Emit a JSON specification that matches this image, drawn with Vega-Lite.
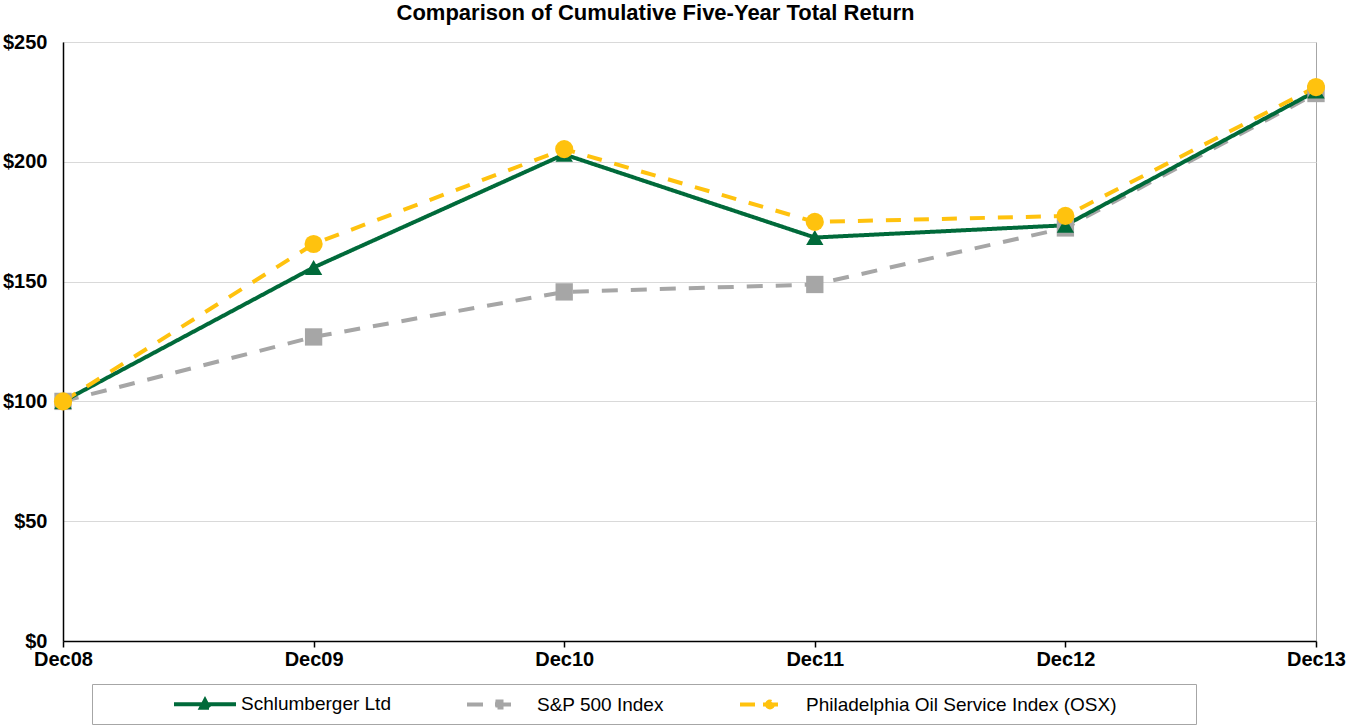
{
  "$schema": "https://vega.github.io/schema/vega-lite/v6.json",
  "width": 1253,
  "height": 599,
  "autosize": {"type": "none"},
  "padding": {"left": 63, "top": 42, "right": 31, "bottom": 85},
  "background": "white",
  "config": {
    "font": "Liberation Sans",
    "view": {"stroke": "#A6A6A6", "strokeWidth": 1}
  },
  "title": {
    "text": "Comparison of Cumulative Five-Year Total Return",
    "fontSize": 22,
    "fontWeight": "bold",
    "color": "black",
    "anchor": "middle",
    "dx": -34,
    "dy": 16,
    "baseline": "alphabetic",
    "offset": 6
  },
  "data": {
    "values": [
      {"series": "S&P 500 Index", "year": "Dec08", "value": 100},
      {"series": "S&P 500 Index", "year": "Dec09", "value": 126.9},
      {"series": "S&P 500 Index", "year": "Dec10", "value": 145.7},
      {"series": "S&P 500 Index", "year": "Dec11", "value": 148.8},
      {"series": "S&P 500 Index", "year": "Dec12", "value": 172.4},
      {"series": "S&P 500 Index", "year": "Dec13", "value": 228.5},
      {"series": "Schlumberger Ltd", "year": "Dec08", "value": 100},
      {"series": "Schlumberger Ltd", "year": "Dec09", "value": 155.9},
      {"series": "Schlumberger Ltd", "year": "Dec10", "value": 203.1},
      {"series": "Schlumberger Ltd", "year": "Dec11", "value": 168.4},
      {"series": "Schlumberger Ltd", "year": "Dec12", "value": 173.5},
      {"series": "Schlumberger Ltd", "year": "Dec13", "value": 229.5},
      {"series": "Philadelphia Oil Service Index (OSX)", "year": "Dec08", "value": 100},
      {"series": "Philadelphia Oil Service Index (OSX)", "year": "Dec09", "value": 165.7},
      {"series": "Philadelphia Oil Service Index (OSX)", "year": "Dec10", "value": 205.3},
      {"series": "Philadelphia Oil Service Index (OSX)", "year": "Dec11", "value": 174.9},
      {"series": "Philadelphia Oil Service Index (OSX)", "year": "Dec12", "value": 177.4},
      {"series": "Philadelphia Oil Service Index (OSX)", "year": "Dec13", "value": 231.2}
    ]
  },
  "encoding": {
    "x": {
      "field": "year",
      "type": "ordinal",
      "sort": ["Dec08", "Dec09", "Dec10", "Dec11", "Dec12", "Dec13"],
      "scale": {"type": "point", "padding": 0},
      "title": null,
      "axis": {
        "labelAngle": 0,
        "labelFontSize": 20,
        "labelFontWeight": "bold",
        "labelColor": "black",
        "labelPadding": 2,
        "domainColor": "black",
        "domainWidth": 1.5,
        "tickColor": "black",
        "tickWidth": 1.5,
        "tickSize": 6,
        "grid": false
      }
    },
    "y": {
      "field": "value",
      "type": "quantitative",
      "scale": {"domain": [0, 250], "nice": false, "zero": true},
      "title": null,
      "axis": {
        "values": [0, 50, 100, 150, 200, 250],
        "format": "$.0f",
        "labelFontSize": 20,
        "labelFontWeight": "bold",
        "labelColor": "black",
        "labelPadding": 16,
        "ticks": false,
        "domainColor": "black",
        "domainWidth": 1.5,
        "gridColor": "#D9D9D9",
        "gridWidth": 1
      }
    },
    "color": {
      "field": "series",
      "type": "nominal",
      "scale": {
        "domain": ["Schlumberger Ltd", "S&P 500 Index", "Philadelphia Oil Service Index (OSX)"],
        "range": ["#006A3A", "#A6A6A6", "#FFC20E"]
      },
      "legend": {
        "title": null,
        "orient": "none",
        "direction": "horizontal",
        "legendX": 29,
        "legendY": 642,
        "padding": 8,
        "columnPadding": 68,
        "strokeColor": "#A6A6A6",
        "fillColor": "white",
        "labelFontSize": 19,
        "labelColor": "black",
        "labelOffset": 46,
        "labelLimit": 400,
        "symbolSize": 400,
        "symbolStrokeWidth": 4,
        "symbolType": "stroke",
        "encode": {
          "labels": {
            "update": {
              "dx": {"signal": "datum.value === 'Schlumberger Ltd' ? 71 : 0"}
            }
          },
          "symbols": {
            "update": {
              "shape": {"signal": "datum.value === 'Schlumberger Ltd' ? 'M-1,0M6.2,0H12.4M8.9,0.35L9.3,-0.4L9.7,0.35Z' : datum.value === 'S&P 500 Index' ? 'M-1.2,0H0.8M1.6,0H3.6M1.65,-0.3H2.25V0.3H1.65Z' : 'M43.2,0M-0.8,0H0.8M1.5,0H4.0M2.5,0A0.3,0.3 0 1 1 1.9,0A0.3,0.3 0 1 1 2.5,0Z'"},
              "size": {"value": 400},
              "fill": {"scale": "color", "field": "value"},
              "stroke": {"scale": "color", "field": "value"},
              "strokeDash": {"value": [1, 0]},
              "strokeWidth": {"value": 4}
            }
          }
        }
      }
    }
  },
  "layer": [
    {
      "mark": {"type": "line", "strokeWidth": 4},
      "encoding": {
        "strokeDash": {
          "field": "series",
          "type": "nominal",
          "scale": {
            "domain": ["Schlumberger Ltd", "S&P 500 Index", "Philadelphia Oil Service Index (OSX)"],
            "range": [[1, 0], [16, 13], [15, 13]]
          },
          "legend": null
        }
      }
    },
    {
      "transform": [{"filter": "datum.series === 'S&P 500 Index'"}],
      "mark": {"type": "point", "filled": true, "opacity": 1, "shape": "square", "size": 300}
    },
    {
      "transform": [{"filter": "datum.series === 'Schlumberger Ltd'"}],
      "mark": {"type": "point", "filled": true, "opacity": 1, "shape": "triangle-up", "size": 300}
    },
    {
      "transform": [{"filter": "datum.series === 'Philadelphia Oil Service Index (OSX)'"}],
      "mark": {"type": "point", "filled": true, "opacity": 1, "shape": "circle", "size": 330}
    }
  ]
}
